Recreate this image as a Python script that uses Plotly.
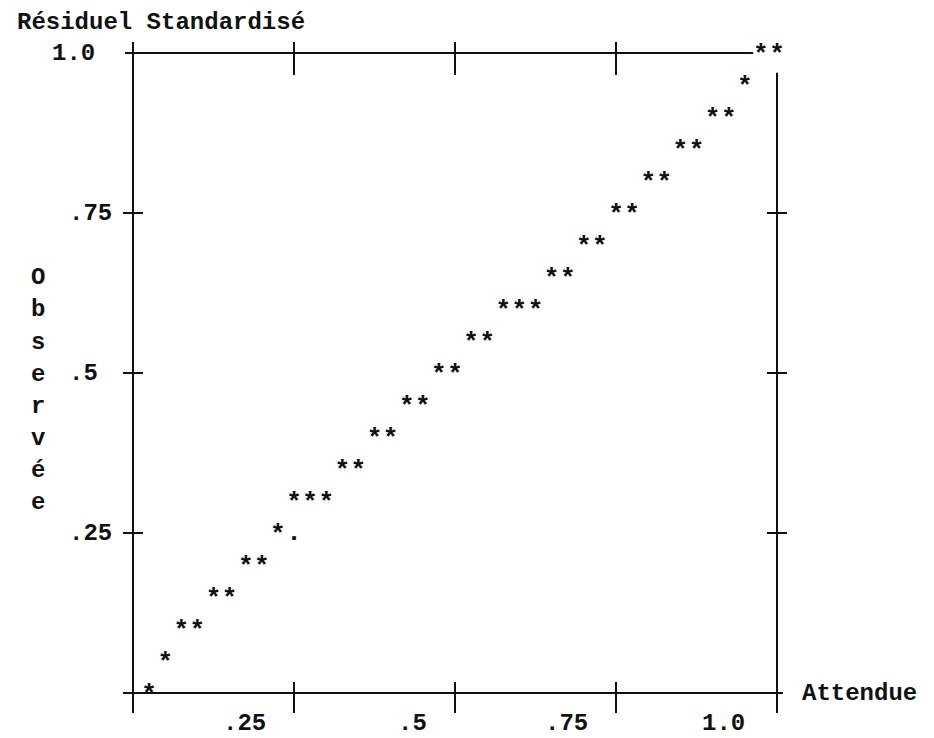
import plotly.graph_objects as go

# ---- data ----
expected = [0.025, 0.05, 0.075, 0.10, 0.125, 0.15, 0.175, 0.20, 0.225, 0.25,
            0.275, 0.30, 0.325, 0.35, 0.375, 0.40, 0.425, 0.45, 0.475, 0.50,
            0.525, 0.55, 0.575, 0.60, 0.625, 0.65, 0.675, 0.70, 0.725, 0.75,
            0.775, 0.80, 0.825, 0.85, 0.875, 0.90, 0.925, 0.95, 0.975, 1.0]
observed = [0.0, 0.05, 0.10, 0.10, 0.15, 0.15, 0.20, 0.20, 0.25, 0.30,
            0.30, 0.30, 0.35, 0.35, 0.40, 0.40, 0.45, 0.45, 0.50, 0.50,
            0.55, 0.55, 0.60, 0.60, 0.60, 0.65, 0.65, 0.70, 0.70, 0.75,
            0.75, 0.80, 0.80, 0.85, 0.85, 0.90, 0.90, 0.95, 1.0, 1.0]
ref_x = [0.25]
ref_y = [0.25]

x_ticks = [0.25, 0.5, 0.75, 1.0]
x_tick_labels = [".25", ".5", ".75", "1.0"]
y_ticks = [0.25, 0.5, 0.75, 1.0]
y_tick_labels = [".25", ".5", ".75", "1.0"]

title_text = "Résiduel Standardisé"
x_title = "Attendue"
y_title = "Observée"

# ---- styling ----
W, H = 934, 738
FONT = "Liberation Mono"
INK = "#111111"
LW = 2

# axis ranges so that 0 -> px 133 / 693 and 1 -> px 777 / 53
XR = [-133 / 644, (934 - 133) / 644]
YR = [1 + 53 / 640 - 738 / 640, 1 + 53 / 640]
px_x = (XR[1] - XR[0]) / W      # data units per pixel (x)
px_y = (YR[1] - YR[0]) / H      # data units per pixel (y)

STAR_SIZE = 26
STAR_SHIFT = 2.5   # px: the '*' glyph is drawn high in its text box -> lower it a bit

fig = go.Figure()

fig.add_trace(go.Scatter(
    x=expected, y=observed, mode="text", text=["*"] * len(expected), yaxis="y2",
    textposition="middle center",
    textfont=dict(family=FONT, size=STAR_SIZE, color=INK, weight="bold"),
    hovertemplate="Attendue %{x}<br>Observée %{y}<extra></extra>", showlegend=False,
))
fig.add_trace(go.Scatter(
    x=ref_x, y=ref_y, mode="text", text=["."] * len(ref_x),
    textposition="middle center",
    textfont=dict(family=FONT, size=STAR_SIZE, color=INK, weight="bold"),
    hoverinfo="skip", showlegend=False,
))

shapes = []
def seg(x0, y0, x1, y1):
    shapes.append(dict(type="line", xref="x", yref="y", x0=x0, y0=y0, x1=x1, y1=y1,
                       line=dict(color=INK, width=LW)))

# frame
seg(0, -20 * px_y, 0, 1 + 11 * px_y)                 # left axis
seg(-10 * px_x, 0, 1 + 6 * px_x, 0)                  # bottom axis
seg(-8 * px_x, 1, 0.963, 1)                          # top line (stops at the ** )
seg(1, -20 * px_y, 1, 0.969)                         # right axis
# ticks
for t in x_ticks:
    seg(t, -20 * px_y, t, 11 * px_y)                 # bottom
    if t < 1:
        seg(t, 1 - 22 * px_y, t, 1 + 11 * px_y)      # top
for t in y_ticks:
    if t < 1:
        seg(-10 * px_x, t, 10 * px_x, t)             # left
        seg(1 - 10 * px_x, t, 1 + 10 * px_x, t)      # right

annotations = []
for t, lab in zip(x_ticks, x_tick_labels):
    annotations.append(dict(x=t, y=0, xref="x", yref="y", text=lab, showarrow=False,
                            xanchor="right", yanchor="middle", xshift=-26 if t < 1 else -30,
                            yshift=-30,
                            font=dict(family=FONT, size=24, color=INK, weight="bold")))
for t, lab in zip(y_ticks, y_tick_labels):
    annotations.append(dict(x=(67 if t < 1 else 50) / W, y=t, xref="paper", yref="y",
                            text=lab, showarrow=False, xanchor="left", yanchor="middle",
                            font=dict(family=FONT, size=24, color=INK, weight="bold")))

annotations.append(dict(x=15 / W, y=1 - 22 / H, xref="paper", yref="paper", text=title_text,
                        showarrow=False, xanchor="left", yanchor="middle",
                        font=dict(family=FONT, size=24, color=INK, weight="bold")))
annotations.append(dict(x=800 / W, y=0, xref="paper", yref="y", text=x_title,
                        showarrow=False, xanchor="left", yanchor="middle",
                        font=dict(family=FONT, size=24, color=INK, weight="bold")))
for i, ch in enumerate(y_title):
    annotations.append(dict(x=38 / W, y=1 - (278 + 32 * i) / H, xref="paper", yref="paper",
                            text=ch, showarrow=False, xanchor="center", yanchor="middle",
                            font=dict(family=FONT, size=24, color=INK, weight="bold")))

fig.update_layout(
    width=W, height=H,
    margin=dict(l=0, r=0, t=0, b=0),
    paper_bgcolor="white", plot_bgcolor="white",
    xaxis=dict(range=XR, visible=False, fixedrange=True),
    yaxis=dict(range=YR, visible=False, fixedrange=True),
    yaxis2=dict(range=[YR[0] + STAR_SHIFT * px_y, YR[1] + STAR_SHIFT * px_y],
                overlaying="y", visible=False, fixedrange=True),
    shapes=shapes, annotations=annotations, showlegend=False,
)

fig.write_html("out.html")
